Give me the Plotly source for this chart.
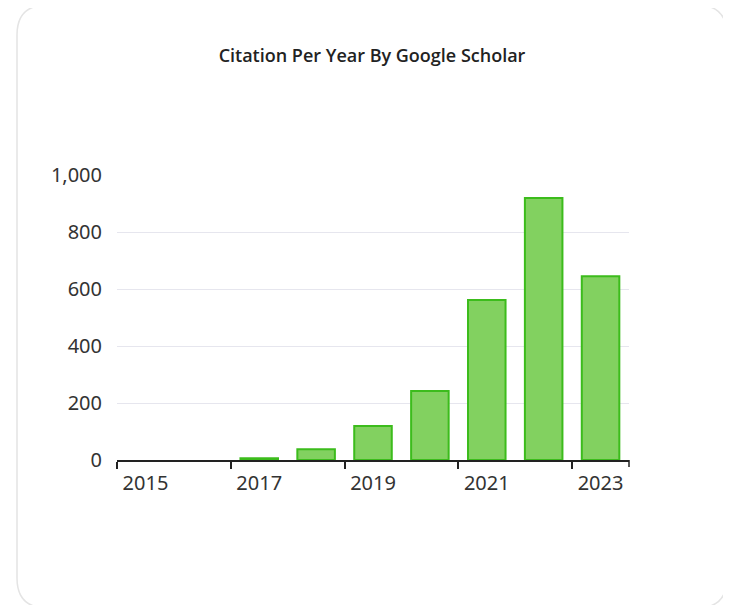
import plotly.graph_objects as go

years = ["2015", "2016", "2017", "2018", "2019", "2020", "2021", "2022", "2023"]
citations = [0, 0, 6, 38, 119, 242, 561, 919, 645]
y_ticks = [0, 200, 400, 600, 800, 1000]
y_tick_labels = ["0", "200", "400", "600", "800", "1,000"]

OFF = 8  # default page body margin
W, H = 731 - 2 * OFF, 613 - 2 * OFF
L, T = 117 - OFF, 175 - OFF
pw, ph = 512, 285
R, B = W - L - pw, H - T - ph

def px(x):
    return (x - OFF - L) / pw

def py(y):
    return (T + ph - (y - OFF)) / ph

fig = go.Figure(go.Bar(
    x=years, y=citations,
    marker=dict(color="#82d160",
                line=dict(color="#3cbc1c", width=[0 if v == 0 else 2 for v in citations])),
    hoverinfo="x+y",
))

# card border (screen coordinates)
x0, x1, y0, y1, r = 17, 727, 5, 608, 30
path = (f"M {px(x0+r)},{py(y0)} L {px(x1-r)},{py(y0)} Q {px(x1)},{py(y0)} {px(x1)},{py(y0+r)} "
        f"L {px(x1)},{py(y1-r)} Q {px(x1)},{py(y1)} {px(x1-r)},{py(y1)} "
        f"L {px(x0+r)},{py(y1)} Q {px(x0)},{py(y1)} {px(x0)},{py(y1-r)} "
        f"L {px(x0)},{py(y0+r)} Q {px(x0)},{py(y0)} {px(x0+r)},{py(y0)} Z")

fig.update_layout(
    width=W, height=H,
    margin=dict(l=L, r=R, t=T, b=B, pad=0),
    paper_bgcolor="white", plot_bgcolor="white",
    bargap=0.34,
    showlegend=False,
    title=dict(text="Citation Per Year By Google Scholar", x=(372 - OFF) / W, xanchor="center",
               y=1 - (56 - OFF) / H, yanchor="middle", yref="container",
               font=dict(family="Open Sans", size=18, color="#222", weight=600)),
    shapes=[
        dict(type="path", path=path, xref="paper", yref="paper",
             line=dict(color="#e4e4e4", width=1.5), layer="below"),
        dict(type="line", xref="paper", yref="paper", x0=1, x1=1, y0=0, y1=-7 / ph,
             line=dict(color="#222", width=1.5)),
    ],
)
fig.update_xaxes(
    type="category", tickson="boundaries", dtick=2, tick0=0,
    ticks="outside", ticklen=7, tickwidth=1.5, tickcolor="#222",
    showline=True, linecolor="#222", linewidth=1.5,
    showgrid=False, ticklabelstandoff=4,
    tickfont=dict(family="Noto Sans", size=20, color="#333"),
)
fig.update_yaxes(
    range=[0, 1000], tickvals=y_ticks, ticktext=y_tick_labels,
    showgrid=True, gridcolor="#e6e6ee", gridwidth=1,
    zeroline=False, showline=False, ticks="",
    ticklabelstandoff=14,
    tickfont=dict(family="Noto Sans", size=20, color="#333"),
)

fig.write_html("out.html")
